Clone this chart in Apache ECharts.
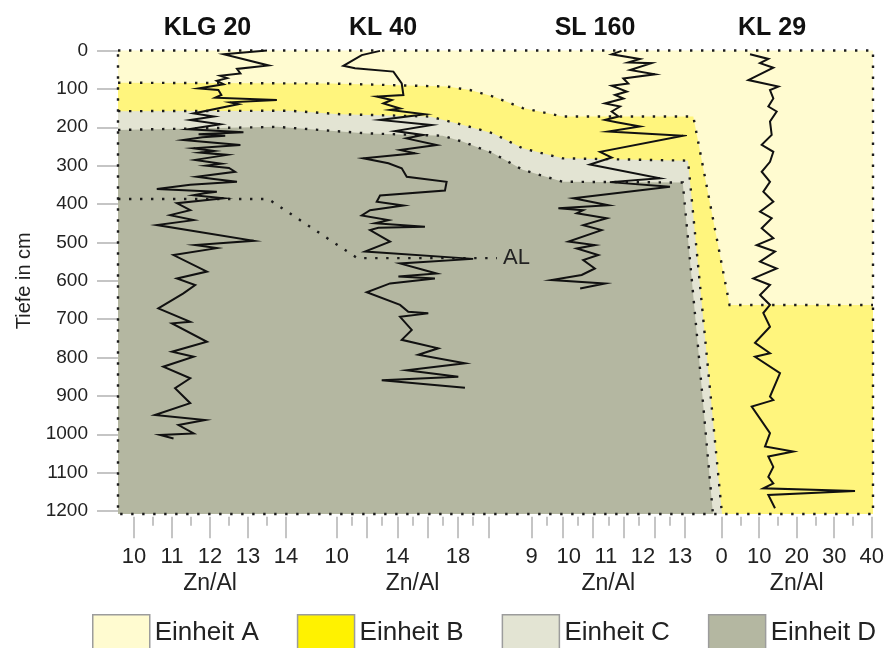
<!DOCTYPE html>
<html>
<head>
<meta charset="utf-8">
<title>Zn/Al – Profile</title>
<script src="https://cdn.jsdelivr.net/npm/echarts@6/dist/echarts.min.js"></script>
<style>
  html, body { margin: 0; padding: 0; background: #fff; }
  #chart { width: 889px; height: 648px; }
</style>
</head>
<body>
<div id="chart"></div>
<script>
// ---- Cores: depth (cm) and Zn/Al ratio ----
const klg20Depth = [0,10,25,39,48,60,66,72,79,88,99,103,116,123,129,135,140,146,164,172,181,192,205,213,218,222,226,233,246,255,262,266,272,285,295,300,306,316,329,335,342,350,361,368,372,377,385,398,416,429,442,455,496,507,515,533,576,594,611,633,672,707,711,759,785,798,824,854,880,919,950,963,976,998,1002,1011];
const klg20ZnAl  = [13.5,12.36,12.97,13.54,12.71,12.8,12.27,12.45,12.18,12.36,11.7,12.22,12.3,12.14,13.76,12.53,12.75,12.45,11.57,12.1,11.48,12.27,11.43,12.88,11.7,12.4,11.8,11.3,12.8,11.57,12.1,11.75,12.45,11.61,12.3,11.9,12.5,12.66,11.65,12.1,12.71,11.48,10.6,12.18,11.85,11.57,12.36,11.13,11.48,10.95,11.57,10.6,13.15,11.61,12.18,11.04,11.92,11.13,11.61,11.3,10.64,11.48,11.0,11.92,11.0,11.57,10.77,11.48,11.08,11.48,10.55,11.87,11.17,11.57,10.69,11.04];

const kl40Depth = [1,12,40,46,55,86,116,120,129,138,151,155,166,181,194,210,220,229,246,259,268,281,294,307,329,342,365,378,394,404,416,430,442,450,459,462,468,498,524,543,555,581,589,594,607,630,663,681,685,694,728,754,776,793,815,833,850,859,879];
const kl40ZnAl  = [12.86,11.65,10.44,11.21,13.74,14.29,14.4,12.64,13.63,13.08,14.18,13.52,15.82,12.86,16.26,13.85,15.71,14.6,16.59,14.18,15.16,11.76,13.41,14.29,14.62,17.25,17.14,12.86,12.64,14.4,12.2,11.65,13.41,12.53,15.82,12.75,12.2,13.52,11.87,19.0,14.18,16.59,14.07,16.48,13.52,11.98,14.18,14.72,16.04,14.18,14.95,14.29,16.7,15.38,18.46,14.62,18.02,12.97,18.46];

const sl160Depth = [1,10,22,31,33,51,62,73,86,92,107,116,125,138,146,159,172,181,187,198,211,222,264,279,297,333,343,355,385,403,411,416,424,437,455,468,498,507,516,533,546,568,585,598,607,620];
const sl160ZnAl  = [11.93,11.61,12.53,12.15,12.91,12.21,13.02,11.99,12.15,11.61,12.10,11.72,11.99,11.39,11.88,11.61,11.83,11.39,11.77,12.53,11.50,13.94,11.23,11.61,10.90,13.18,11.55,13.51,10.36,11.50,9.87,10.68,10.47,11.45,10.68,11.28,10.20,11.06,10.47,11.17,10.68,11.06,10.63,9.65,11.39,10.58];

const kl29Depth = [10,22,33,45,77,94,103,125,146,159,185,220,246,264,290,316,342,368,394,420,437,463,489,507,524,550,568,594,611,637,663,684,720,762,789,798,841,902,911,928,997,1032,1045,1058,1085,1111,1128,1141,1148,1158,1193];
const kl29ZnAl  = [7.55,12.44,10.22,13.77,7.11,15.1,12.88,13.77,12.44,14.66,12.88,13.33,10.66,13.77,12.88,10.66,12.88,11.1,13.77,10.22,13.33,10.66,13.77,9.33,14.22,10.22,14.66,8.44,12.88,10.22,12.88,11.09,12.88,8.88,12.88,8.88,15.55,12.88,13.76,8.0,12.88,11.55,19.09,12.43,13.76,12.43,13.76,11.09,35.55,12.43,14.21];

// ---- Section units: position along the section (0–100) and depth (cm) ----
const sectionBottom = 1208;
const boundaryABPos   = [0, 28.1, 43.6, 46.6, 49.7, 53.6, 58.9, 76.2, 81.0, 100];
const boundaryABDepth = [84, 86, 94, 103, 120, 150, 172, 172, 663, 663];
const boundaryBCPos   = [0, 22.8, 29.4, 41.3, 45.7, 49.7, 53.6, 58.9, 75.5, 77.0, 80.0];
const boundaryBCDepth = [158, 157, 166, 172, 194, 216, 255, 281, 287, 594, 1208];
const boundaryCDPos   = [0, 21.1, 33.0, 43.0, 45.7, 49.7, 53.6, 58.9, 74.8, 76.8, 78.8];
const boundaryCDDepth = [207, 199, 216, 222, 238, 268, 311, 342, 344, 767, 1208];
const alLinePos   = [0, 19.9, 31.7, 50.2];
const alLineDepth = [387, 387, 541, 541];
const alLabelPos = 51.0, alLabelDepth = 541;

const unitNames   = ['Einheit A', 'Einheit B', 'Einheit C', 'Einheit D'];
const unitColors  = ['#FFFBD0', '#FFF57D', '#E3E4D3', '#B4B7A1'];
const legendColors = ['#FFFBD0', '#FFF200', '#E3E4D3', '#B4B7A1'];

const coreNames = ['KLG 20', 'KL 40', 'SL 160', 'KL 29'];
const depthTicks = { min: 0, max: 1200, step: 100 };

// ---- helpers ----
const FONT = '"Liberation Sans", Arial, sans-serif';
const TEXT = '#222';
const TICK = '#b3b3b3';
const toPairs = (xs, ys) => xs.map((x, i) => [x, ys[i]]);

// polygons of each unit: everything below its upper boundary
const unitPolygons = [
  toPairs([0, 100, 100, 0], [0, 0, sectionBottom, sectionBottom]),
  toPairs(boundaryABPos.concat([100, 0]), boundaryABDepth.concat([sectionBottom, sectionBottom])),
  toPairs(boundaryBCPos.concat([0]), boundaryBCDepth.concat([sectionBottom])),
  toPairs(boundaryCDPos.concat([0]), boundaryCDDepth.concat([sectionBottom]))
];
const dottedLines = [
  toPairs(boundaryABPos, boundaryABDepth),
  toPairs(boundaryBCPos, boundaryBCDepth),
  toPairs(boundaryCDPos, boundaryCDDepth),
  toPairs(alLinePos, alLineDepth),
  toPairs([0, 100, 100, 0, 0], [0, 0, sectionBottom, sectionBottom, 0])
];

const unitSeries = unitNames.map((name, k) => ({
  type: 'custom', name, xAxisIndex: 0, yAxisIndex: 0, silent: true,
  itemStyle: { color: unitColors[k] },
  data: [unitPolygons[k][0]],
  renderItem: (params, api) => ({
    type: 'polygon',
    shape: { points: unitPolygons[k].map(p => api.coord(p)) },
    style: { fill: unitColors[k] }
  })
}));

const boundarySeries = {
  type: 'custom', xAxisIndex: 0, yAxisIndex: 0, silent: true,
  data: [[alLabelPos, alLabelDepth]],
  renderItem: (params, api) => {
    const children = dottedLines.map(line => ({
      type: 'polyline',
      shape: { points: line.map(p => api.coord(p)) },
      style: { stroke: '#1c1c1c', lineWidth: 2.4, lineDash: [2.4, 8.6], fill: null }
    }));
    const lp = api.coord([alLabelPos, alLabelDepth]);
    children.push({
      type: 'text',
      style: { text: 'AL', x: lp[0], y: lp[1], fontSize: 22, fontFamily: FONT, fill: TEXT,
               align: 'left', verticalAlign: 'middle' }
    });
    return { type: 'group', children };
  }
};

// ---- grids: section, then one per core ----
const TOP = 50.5, H = 460.5;
const grids = [
  { left: 118, top: TOP, width: 755, height: H },
  { left: 134, top: TOP, width: 152, height: H },
  { left: 336.7, top: TOP, width: 151.6, height: H },
  { left: 531.7, top: TOP, width: 153.3, height: H },
  { left: 721.7, top: TOP, width: 150, height: H }
];

function coreAxis(gridIndex, min, max, interval, extra) {
  return Object.assign({
    type: 'value', gridIndex, min, max, interval, position: 'bottom', offset: 5.7,
    axisLine: { show: false, onZero: false },
    axisTick: { show: true, length: 21.5, lineStyle: { color: TICK, width: 1.5 } },
    minorTick: { show: true, splitNumber: 2, length: 9, lineStyle: { color: TICK, width: 1.5 } },
    splitLine: { show: false },
    axisLabel: { show: true, margin: 29, fontSize: 22, color: TEXT, fontFamily: FONT },
    name: 'Zn/Al', nameLocation: 'middle', nameGap: 55,
    nameTextStyle: { fontSize: 23, color: TEXT, fontFamily: FONT }
  }, extra || {});
}

const xAxes = [
  { type: 'value', gridIndex: 0, min: 0, max: 100, show: false },
  coreAxis(1, 10, 14, 1),
  coreAxis(2, 10, 20, 2, { axisLabel: { show: true, margin: 29, fontSize: 22, color: TEXT, fontFamily: FONT, customValues: [10, 14, 18] } }),
  coreAxis(3, 9, 14, 1, { axisLabel: { show: false }, name: '' }),
  coreAxis(3, 9, 13.134, 1, {
    axisTick: { show: false }, minorTick: { show: false },
    axisLabel: { show: true, margin: 29, fontSize: 22, color: TEXT, fontFamily: FONT, customValues: [9, 10, 11, 12, 13] }
  }),
  coreAxis(4, 0, 40, 10)
];

const yAxes = [0, 1, 2, 3, 4].map(g => ({
  type: 'value', gridIndex: g, inverse: true,
  min: depthTicks.min, max: depthTicks.max, interval: depthTicks.step,
  show: g === 0,
  axisLine: { show: false, onZero: false },
  axisTick: { show: true, length: 21, lineStyle: { color: TICK, width: 1.5 } },
  splitLine: { show: false },
  axisLabel: { margin: 30, fontSize: 19, color: TEXT, fontFamily: FONT, formatter: v => String(v) },
  name: g === 0 ? 'Tiefe in cm' : '', nameLocation: 'middle', nameGap: 84,
  nameTextStyle: { fontSize: 20, color: TEXT, fontFamily: FONT }
}));

const cores = [
  { depth: klg20Depth, value: klg20ZnAl, x: 1, y: 1 },
  { depth: kl40Depth, value: kl40ZnAl, x: 2, y: 2 },
  { depth: sl160Depth, value: sl160ZnAl, x: 3, y: 3 },
  { depth: kl29Depth, value: kl29ZnAl, x: 5, y: 4 }
];
const coreSeries = cores.map((c, k) => ({
  type: 'line', name: coreNames[k], xAxisIndex: c.x, yAxisIndex: c.y,
  data: toPairs(c.value, c.depth),
  showSymbol: false, symbol: 'none', silent: true, clip: false,
  lineStyle: { color: '#111', width: 2, join: 'miter' }
}));

const titleCenters = [207.5, 383, 595, 772];

const chart = echarts.init(document.getElementById('chart'), null, { renderer: 'canvas' });
chart.setOption({
  animation: false,
  backgroundColor: '#fff',
  title: coreNames.map((n, k) => ({
    text: n, left: titleCenters[k], top: 16, textAlign: 'center', padding: 0,
    textStyle: { fontSize: 25, fontWeight: 'bold', color: '#111', fontFamily: FONT }
  })),
  grid: grids,
  xAxis: xAxes,
  yAxis: yAxes,
  legend: {
    left: 92, top: 614, width: 860, padding: 0, icon: 'rect',
    itemWidth: 57, itemHeight: 36, itemGap: 38, selectedMode: false,
    textStyle: { fontSize: 26, color: TEXT, fontFamily: FONT },
    data: unitNames.map((n, k) => ({
      name: n,
      itemStyle: { color: legendColors[k], borderColor: '#9c9c9c', borderWidth: 1.5 }
    }))
  },
  series: unitSeries.concat([boundarySeries], coreSeries)
});
</script>
</body>
</html>
